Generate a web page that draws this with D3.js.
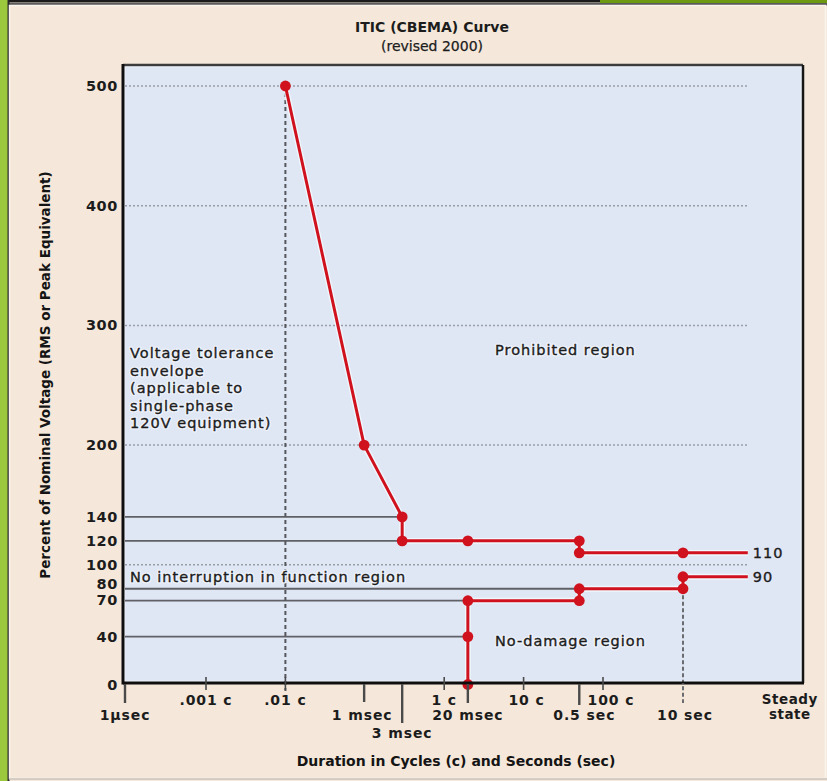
<!DOCTYPE html>
<html><head><meta charset="utf-8">
<script src="https://cdn.jsdelivr.net/npm/d3@7"></script>
<style>
body{margin:0;background:#f5e8da;}
svg{display:block}
</style>
</head><body>
<svg id="c" width="827" height="781"></svg>
<script>
// ---------- data ----------
const titleLines = ["ITIC (CBEMA) Curve", "(revised 2000)"];
const yTitle = "Percent of Nominal Voltage (RMS or Peak Equivalent)";
const xTitle = "Duration in Cycles (c) and Seconds (sec)";

const yTickValues = [500, 400, 300, 200, 140, 120, 100, 80, 70, 40, 0];
const dottedGridPct = [500, 400, 300, 200, 100];

const secTickValues = [1e-6, 0.001, 0.003, 0.02, 0.5, 10];
const secTickLabels = ["1\u00b5sec", "1 msec", "3 msec", "20 msec", "0.5 sec", "10 sec"];
const cycTickValues = [0.001, 0.01, 1, 10, 100];
const cycTickLabels = [".001 c", ".01 c", "1 c", "10 c", "100 c"];
const steadyStateSec = 65;
const steadyLabel = ["Steady", "state"];

// upper (overvoltage) curve
const upperDur  = [0.01, 0.001, 0.003, 0.003, 0.02, 0.5, 0.5, 10, steadyStateSec];
const upperUnit = ["c", "s", "s", "s", "s", "s", "s", "s", "s"];
const upperPct  = [500, 200, 140, 120, 120, 120, 110, 110, 110];
const upperDot  = [1, 1, 1, 1, 1, 1, 1, 1, 0];
// lower (undervoltage) curve
const lowerDur  = [0.02, 0.02, 0.02, 0.5, 0.5, 10, 10, steadyStateSec];
const lowerUnit = ["s", "s", "s", "s", "s", "s", "s", "s"];
const lowerPct  = [0, 40, 70, 70, 80, 80, 90, 90];
const lowerDot  = [1, 1, 1, 1, 1, 1, 1, 0];
const endLabels = ["110", "90"];
const endPct = [110, 90];

// solid reference lines from the axis to the curve
const refPct = [140, 120, 80, 70, 40];
const refDur = [0.003, 0.003, 0.5, 0.02, 0.02];

const envelopeText = ["Voltage tolerance", "envelope", "(applicable to", "single-phase", "120V equipment)"];
const prohibitedText = "Prohibited region";
const noInterruptText = "No interruption in function region";
const noDamageText = "No-damage region";

// ---------- layout ----------
const W = 827, H = 781;
const plot = {l: 123, r: 803, t: 65, b: 683};
const svg = d3.select("#c");

const y = d3.scaleLinear().domain([0, 500]).range([684.5, 86]);
const xSec = d3.scaleLog().domain([1e-6, 10]).range([125, 683]);
const xCyc = d3.scaleLog().domain([0.001, 100]).range([206, 603]);
const xOf = (t, u) => u === "c" ? xCyc(t) : xSec(t);

const RED = "#d0121e";
const FONT = "'DejaVu Sans', Verdana, sans-serif";
const INK = "#1c1c1c";

// page background + frame decorations
svg.append("rect").attr("width", W).attr("height", H).attr("fill", "#f5e8da");
svg.append("rect").attr("x", 0).attr("y", 0).attr("width", 8).attr("height", H).attr("fill", "#9cc83e");
svg.append("rect").attr("x", 8).attr("y", 0).attr("width", 592).attr("height", 2.5).attr("fill", "#1a1a1a");
svg.append("rect").attr("x", 600).attr("y", 0).attr("width", 227).attr("height", 3).attr("fill", "#6e9a12");
svg.append("rect").attr("x", 8).attr("y", 3).attr("width", W - 8).attr("height", 2.5).attr("fill", "#5a5a5a");
svg.append("rect").attr("x", 7.5).attr("y", 0).attr("width", 2).attr("height", H).attr("fill", "#2a2a2a");
svg.append("rect").attr("x", 9.5).attr("y", 5.5).attr("width", W - 11).attr("height", H - 8)
  .attr("fill", "none").attr("stroke", "#fbf4ec").attr("stroke-width", 1.5);
svg.append("line").attr("x1", 9).attr("x2", W).attr("y1", 779).attr("y2", 779).attr("stroke", "#c9c2ba").attr("stroke-width", 1.5);

// title
svg.append("text").attr("x", 432).attr("y", 32).attr("text-anchor", "middle")
  .attr("font-family", FONT).attr("font-weight", "bold").attr("font-size", 14).attr("fill", INK)
  .text(titleLines[0]);
svg.append("text").attr("x", 432).attr("y", 51).attr("text-anchor", "middle")
  .attr("font-family", FONT).attr("font-size", 14).attr("fill", INK)
  .attr("stroke", INK).attr("stroke-width", 0.25)
  .text(titleLines[1]);

// plot area
svg.append("rect").attr("x", plot.l).attr("y", plot.t).attr("width", plot.r - plot.l).attr("height", plot.b - plot.t)
  .attr("fill", "#dfe6f4");
svg.append("rect").attr("x", plot.l + 1.5).attr("y", plot.t + 1.5).attr("width", plot.r - plot.l - 3).attr("height", plot.b - plot.t - 3)
  .attr("fill", "none").attr("stroke", "#f2f6fc").attr("stroke-width", 1.5);

const g = svg.append("g");

// dotted grid lines
g.selectAll("line.grid").data(dottedGridPct).join("line")
  .attr("x1", plot.l + 2).attr("x2", xSec(steadyStateSec))
  .attr("y1", d => y(d)).attr("y2", d => y(d))
  .attr("stroke", "#9a9ea6").attr("stroke-width", 1.5).attr("stroke-dasharray", "2,2");

// solid reference lines
g.selectAll("line.ref").data(refPct).join("line")
  .attr("x1", plot.l + 2).attr("x2", (d, i) => xSec(refDur[i]))
  .attr("y1", d => y(d)).attr("y2", d => y(d))
  .attr("stroke", "#5f6166").attr("stroke-width", 1.8);

// vertical dashed lines (.01 c and 10 sec)
g.append("line").attr("x1", xCyc(0.01)).attr("x2", xCyc(0.01))
  .attr("y1", y(500)).attr("y2", plot.b + 8)
  .attr("stroke", "#55575c").attr("stroke-width", 2).attr("stroke-dasharray", "4,3");
g.append("line").attr("x1", xSec(10)).attr("x2", xSec(10))
  .attr("y1", y(80)).attr("y2", plot.b + 20)
  .attr("stroke", "#6a6c70").attr("stroke-width", 2).attr("stroke-dasharray", "4,2.5");

// annotation texts with halo, drawn twice (halo, then ink)
function annot(x, y0, lines) {
  [0, 1].forEach(pass => {
    const t = g.append("text").attr("x", x).attr("y", y0)
      .attr("font-family", FONT).attr("font-size", 14.5).attr("letter-spacing", 1)
      .attr("fill", INK).attr("stroke-linejoin", "round");
    if (pass === 0) t.attr("stroke", "#eef2fa").attr("stroke-width", 3.2);
    else t.attr("stroke", INK).attr("stroke-width", 0.35);
    t.selectAll("tspan").data(lines).join("tspan")
      .attr("x", x).attr("dy", (d, i) => i ? 17.5 : 0).text(d => d);
  });
}
annot(130, 358, envelopeText);
annot(495, 355, [prohibitedText]);
annot(130, 582, [noInterruptText]);
annot(495, 646, [noDamageText]);

// plot frame
svg.append("line").attr("x1", plot.l).attr("x2", plot.r).attr("y1", plot.t).attr("y2", plot.t).attr("stroke", "#3c3c3c").attr("stroke-width", 2.5);
svg.append("line").attr("x1", plot.r).attr("x2", plot.r).attr("y1", plot.t).attr("y2", plot.b).attr("stroke", "#161616").attr("stroke-width", 2.5);
svg.append("line").attr("x1", plot.l).attr("x2", plot.l).attr("y1", plot.t - 1).attr("y2", plot.b + 1.5).attr("stroke", "#0e0e0e").attr("stroke-width", 3);
svg.append("line").attr("x1", plot.l).attr("x2", plot.r + 1).attr("y1", plot.b).attr("y2", plot.b).attr("stroke", "#0e0e0e").attr("stroke-width", 3);

// curves
function curve(dur, unit, pct, dot) {
  const pts = dur.map((t, i) => ({x: xOf(t, unit[i]), y: y(pct[i]), dot: dot[i]}));
  const line = d3.line().x(d => d.x).y(d => d.y);
  g.append("path").attr("d", line(pts)).attr("fill", "none")
    .attr("stroke", "#f4fbff").attr("stroke-width", 5.8).attr("stroke-opacity", 0.8).attr("stroke-linejoin", "round");
  g.append("path").attr("d", line(pts)).attr("fill", "none")
    .attr("stroke", RED).attr("stroke-width", 3).attr("stroke-linejoin", "round");
  g.selectAll(null).data(pts.filter(d => d.dot)).join("circle")
    .attr("cx", d => d.x).attr("cy", d => d.y).attr("r", 5.4).attr("fill", RED);
}
curve(upperDur, upperUnit, upperPct, upperDot);
curve(lowerDur, lowerUnit, lowerPct, lowerDot);

// end labels 110 / 90
g.selectAll("text.end").data(endLabels).join("text")
  .attr("x", xSec(steadyStateSec) + 5).attr("y", (d, i) => y(endPct[i]) + 5)
  .attr("font-family", FONT).attr("font-size", 14.5).attr("letter-spacing", 1).attr("fill", INK)
  .attr("stroke", INK).attr("stroke-width", 0.35)
  .text(d => d);

// y axis labels
const yLabelNudge = {80: -5, 70: -1};
svg.selectAll("text.ytick").data(yTickValues).join("text")
  .attr("x", 118).attr("y", d => y(d) + 5 + (yLabelNudge[d] || 0))
  .attr("text-anchor", "end")
  .attr("font-family", FONT).attr("font-weight", "bold").attr("font-size", 14.5).attr("letter-spacing", 0.6).attr("fill", INK)
  .text(d => d);

// x axis: cycle ticks (short, crossing the axis)
svg.selectAll("line.ctick").data(cycTickValues).join("line")
  .attr("x1", d => xCyc(d)).attr("x2", d => xCyc(d))
  .attr("y1", plot.b - 6).attr("y2", plot.b + 7)
  .attr("stroke", "#4a4a4a").attr("stroke-width", 1.6);
const cycNudge = [0, 0, 0, 3, 8];
svg.selectAll("text.ctick").data(cycTickValues).join("text")
  .attr("x", (d, i) => xCyc(d) + cycNudge[i]).attr("y", 705)
  .attr("text-anchor", "middle")
  .attr("font-family", FONT).attr("font-weight", "bold").attr("font-size", 14).attr("letter-spacing", 0.9).attr("fill", INK)
  .text((d, i) => cycTickLabels[i]);

// x axis: seconds ticks (below the axis)
const secTickLen = [20, 19, 40, 20, 22, 0];
svg.selectAll("line.stick").data(secTickValues).join("line")
  .attr("x1", d => xSec(d)).attr("x2", d => xSec(d))
  .attr("y1", plot.b + 1).attr("y2", (d, i) => plot.b + secTickLen[i])
  .attr("stroke", "#4a4a4a").attr("stroke-width", 2.4);
const secLabelY = [720, 720, 738, 720, 720, 720];
const secNudge = [0, -2, 0, 0, 5, 2];
svg.selectAll("text.stick").data(secTickValues).join("text")
  .attr("x", (d, i) => xSec(d) + secNudge[i]).attr("y", (d, i) => secLabelY[i])
  .attr("text-anchor", "middle")
  .attr("font-family", FONT).attr("font-weight", "bold").attr("font-size", 14).attr("letter-spacing", 0.9).attr("fill", INK)
  .text((d, i) => secTickLabels[i]);

// steady state label
svg.append("text").attr("x", xSec(steadyStateSec) + 42).attr("y", 704).attr("text-anchor", "middle")
  .attr("font-family", FONT).attr("font-weight", "bold").attr("font-size", 13.5).attr("letter-spacing", 0.5).attr("fill", INK)
  .selectAll("tspan").data(steadyLabel).join("tspan")
  .attr("x", xSec(steadyStateSec) + 42).attr("dy", (d, i) => i ? 15 : 0).text(d => d);

// axis titles
svg.append("text").attr("x", 456).attr("y", 766).attr("text-anchor", "middle")
  .attr("font-family", FONT).attr("font-weight", "bold").attr("font-size", 14).attr("fill", "#141414")
  .text(xTitle);
svg.append("text").attr("transform", "translate(50,375) rotate(-90)").attr("text-anchor", "middle")
  .attr("font-family", FONT).attr("font-weight", "bold").attr("font-size", 13.5).attr("fill", "#141414")
  .text(yTitle);
</script>
</body></html>
